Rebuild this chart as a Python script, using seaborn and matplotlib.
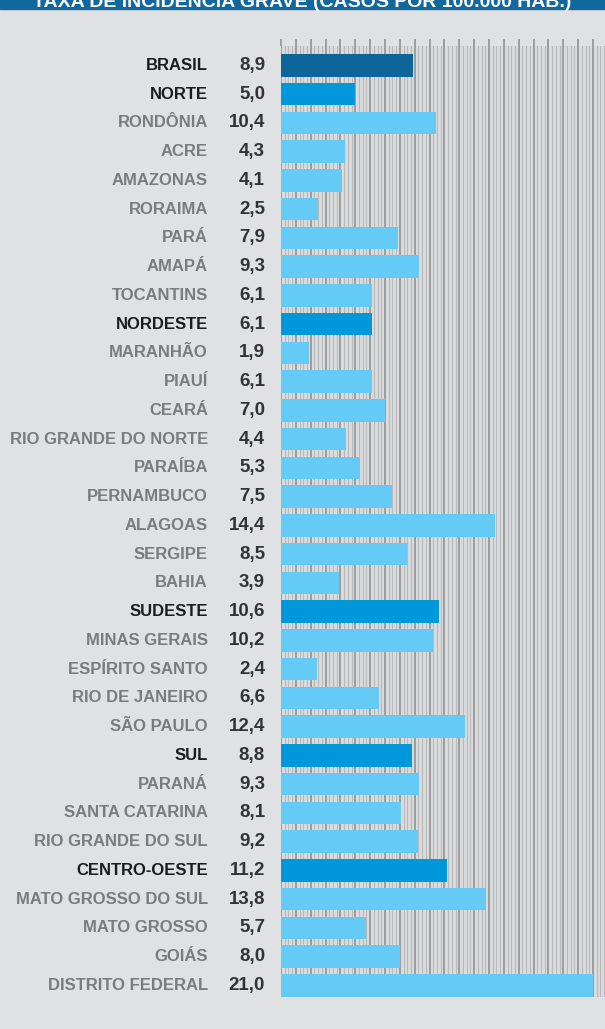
import matplotlib
matplotlib.use("Agg")
import matplotlib.pyplot as plt
import seaborn as sns
import pandas as pd
from matplotlib.ticker import MultipleLocator

names = ["BRASIL", "NORTE", "RONDÔNIA", "ACRE", "AMAZONAS", "RORAIMA", "PARÁ", "AMAPÁ",
         "TOCANTINS", "NORDESTE", "MARANHÃO", "PIAUÍ", "CEARÁ", "RIO GRANDE DO NORTE",
         "PARAÍBA", "PERNAMBUCO", "ALAGOAS", "SERGIPE", "BAHIA", "SUDESTE", "MINAS GERAIS",
         "ESPÍRITO SANTO", "RIO DE JANEIRO", "SÃO PAULO", "SUL", "PARANÁ", "SANTA CATARINA",
         "RIO GRANDE DO SUL", "CENTRO-OESTE", "MATO GROSSO DO SUL", "MATO GROSSO", "GOIÁS",
         "DISTRITO FEDERAL"]
values = [8.9, 5.0, 10.4, 4.3, 4.1, 2.5, 7.9, 9.3, 6.1, 6.1, 1.9, 6.1, 7.0, 4.4, 5.3, 7.5,
          14.4, 8.5, 3.9, 10.6, 10.2, 2.4, 6.6, 12.4, 8.8, 9.3, 8.1, 9.2, 11.2, 13.8, 5.7,
          8.0, 21.0]
levels = ["país", "região", "uf", "uf", "uf", "uf", "uf", "uf", "uf", "região", "uf", "uf",
          "uf", "uf", "uf", "uf", "uf", "uf", "uf", "região", "uf", "uf", "uf", "uf",
          "região", "uf", "uf", "uf", "região", "uf", "uf", "uf", "uf"]
title = "TAXA DE INCIDÊNCIA GRAVE (CASOS POR 100.000 HAB.)"

df = pd.DataFrame({"nome": names, "valor": values, "nivel": levels})
palette = {"país": "#0e6599", "região": "#0098da", "uf": "#63cbf5"}

BG = "#e0e1e3"
W, H = 605, 1029
fig = plt.figure(figsize=(W / 100, H / 100), dpi=100, facecolor=BG)
FAM = ["Liberation Sans Narrow", "Liberation Sans", "DejaVu Sans"]
plt.rcParams["font.family"] = FAM

# title band (clipped at top, as in the reference)
fig.patches.append(plt.Rectangle((0, 1 - 9 / H), 1, 9 / H, transform=fig.transFigure,
                                 color="#12679c", zorder=0))
fig.text(0.5, 1 - 1 / H, title, ha="center", va="center", color="white",
         fontsize=14, fontweight="bold", family=FAM)

top_px, bot_px, left_px = 46, 997, 281
ax = fig.add_axes([left_px / W, 1 - bot_px / H, 1 - left_px / W, (bot_px - top_px) / H])
ax.set_facecolor("#dadbdd")

sns.barplot(data=df, x="valor", y="nome", hue="nivel", palette=palette, dodge=False,
            width=0.78, legend=False, ax=ax, saturation=1, zorder=3)

row = 29.65
n = len(names)
ax.set_ylim(n - 1 + 12 / row, -(66 - top_px) / row)
ax.set_xlim(0, (W - left_px) / 14.86)

ax.xaxis.set_major_locator(MultipleLocator(1))
ax.xaxis.set_minor_locator(MultipleLocator(0.25))
ax.grid(which="major", axis="x", color="#8c8c8c", lw=1.1, zorder=1)
ax.grid(which="minor", axis="x", color="#b9b9b9", lw=0.8, zorder=0)
ax.set_axisbelow(True)
ax.xaxis.tick_top()
ax.tick_params(axis="x", which="major", direction="out", length=5, width=1.1,
               color="#8c8c8c", labeltop=False, labelbottom=False)
ax.tick_params(axis="x", which="minor", length=0)
ax.tick_params(axis="y", length=0, labelleft=False)
for s in ax.spines.values():
    s.set_visible(False)
ax.set_xlabel("")
ax.set_ylabel("")

for i, (nm, v, lv) in enumerate(zip(names, values, levels)):
    col = "#1c1c1c" if lv != "uf" else "#7b7b7b"
    ax.annotate(nm, xy=(0, i), xytext=(-73, 0), textcoords="offset pixels",
                ha="right", va="center", fontsize=12, fontweight="bold", color=col,
                annotation_clip=False)
    ax.annotate(f"{v:.1f}".replace(".", ","), xy=(0, i), xytext=(-16, 0),
                textcoords="offset pixels", ha="right", va="center", fontsize=13.5,
                fontweight="bold", color="#333333", annotation_clip=False)

fig.savefig("out.png", dpi=100, facecolor=BG)
